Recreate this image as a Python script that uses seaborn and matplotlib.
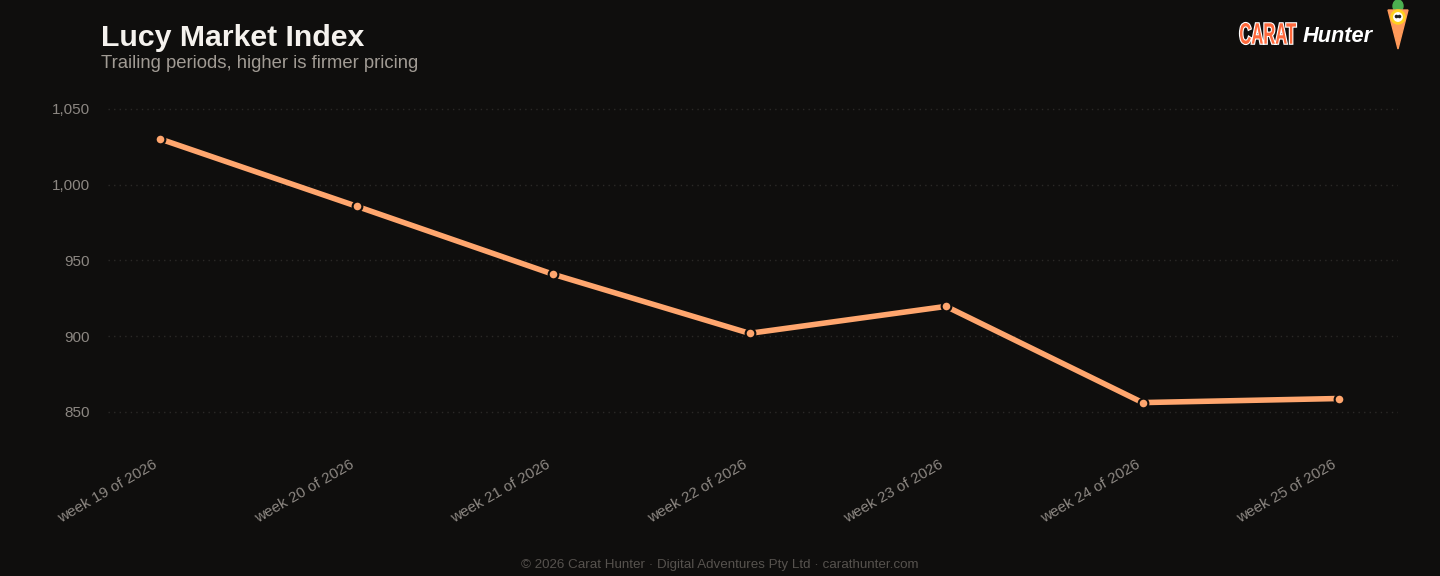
import matplotlib
matplotlib.use("Agg")
import matplotlib.pyplot as plt
from matplotlib.patches import Polygon, Ellipse, Circle, PathPatch
from matplotlib.textpath import TextPath
from matplotlib.font_manager import FontProperties
from matplotlib.transforms import Affine2D, IdentityTransform, ScaledTranslation
import seaborn as sns
import pandas as pd

# data
weeks = ["week 19 of 2026", "week 20 of 2026", "week 21 of 2026", "week 22 of 2026",
         "week 23 of 2026", "week 24 of 2026", "week 25 of 2026"]
index_values = [1030.2, 985.8, 940.9, 901.9, 919.7, 856.2, 858.9]
y_ticks = [850, 900, 950, 1000, 1050]

bg = "#0f0e0d"
line_col = "#ffa66e"
grid_col = "#2b2927"
tick_col = "#8c8782"

sns.set_theme(style="dark")
plt.rcParams['font.family'] = ['Liberation Sans', 'DejaVu Sans']

df = pd.DataFrame({"week": weeks, "value": index_values, "pos": range(len(weeks))})

W, H = 1440, 576
fig = plt.figure(figsize=(14.4, 5.76), dpi=100, facecolor=bg)
ax = fig.add_axes([108 / W, 1 - 443.8 / H, (1398 - 108) / W, (443.8 - 101.4) / H])
ax.set_facecolor(bg)

sns.lineplot(data=df, x="pos", y="value", ax=ax, color=line_col, linewidth=4,
             marker="o", markersize=7, markeredgecolor=bg, markeredgewidth=1.5,
             markerfacecolor=line_col)

ax.set_xlim(-0.265, 6.3)
ax.set_ylim(829, 1055)
ax.set_yticks(y_ticks)
ax.set_yticklabels([f"{v:,}" for v in y_ticks])
ax.set_xticks(df["pos"])
ax.set_xticklabels(weeks, rotation=30, ha="right", rotation_mode="anchor")
ax.set_xlabel("")
ax.set_ylabel("")
ax.tick_params(axis="both", colors=tick_col, labelsize=11, length=0)
ax.tick_params(axis="y", pad=13)
ax.tick_params(axis="x", pad=12)
shift = ScaledTranslation(-7 / 100, 3 / 100, fig.dpi_scale_trans)
for lab in ax.get_xticklabels():
    lab.set_transform(lab.get_transform() + shift)
ax.grid(axis="y", color=grid_col, linestyle=(0, (1, 3)), linewidth=1)
ax.grid(axis="x", visible=False)
for s in ax.spines.values():
    s.set_visible(False)

# titles
fig.text(101 / W, 1 - 38 / H, "Lucy Market Index", color="#f5f2ee", fontsize=21.8,
         fontweight="bold", va="center", ha="left")
fig.text(101 / W, 1 - 64 / H, "Trailing periods, higher is firmer pricing", color="#a19b94",
         fontsize=13.3, va="center", ha="left")

# footer
fig.text(0.5, 1 - 565 / H,
         "\u00a9 2026 Carat Hunter \u00b7 Digital Adventures Pty Ltd \u00b7 carathunter.com",
         color="#56524e", fontsize=9.6, ha="center", va="center")

# logo: condensed "CARAT" built from a squeezed text path
tp = TextPath((0, 0), "CARAT", size=30, prop=FontProperties(family="Liberation Sans", weight="bold"))
ext = tp.get_extents()
sx = 56 / ext.width
sy = 21 / ext.height
tr = Affine2D().translate(-ext.x0, -ext.y0).scale(sx, sy).translate(1240, H - 44)
fig.patches.append(PathPatch(tp, transform=tr + IdentityTransform(), facecolor="#ff6a3d",
                             edgecolor="white", linewidth=1.6, figure=fig))
fig.patches.append(PathPatch(tp, transform=tr + IdentityTransform(), facecolor="#ff6a3d",
                             edgecolor="none", figure=fig))
fig.text(1303 / W, 1 - 36 / H, "Hunter", color="white", fontsize=15.7, fontweight="bold",
         fontstyle="italic", ha="left", va="center")
lx = fig.add_axes([1380 / W, 1 - 52 / H, 36 / W, 52 / H])
lx.set_xlim(0, 36)
lx.set_ylim(52, 0)
lx.axis("off")
lx.add_patch(Ellipse((18, 6), 10, 12, color="#4caf50"))
lx.add_patch(Polygon([[8, 10], [28, 10], [18, 49]], closed=True, color="#ff9a5a"))
lx.add_patch(Circle((18, 17), 7, color="#ffd21f"))
lx.add_patch(Circle((18, 17), 4.2, color="white"))
lx.add_patch(Circle((16.5, 16.5), 1.1, color="#222"))
lx.add_patch(Circle((19.5, 16.5), 1.1, color="#222"))

fig.savefig("out.png", dpi=100, facecolor=bg)
